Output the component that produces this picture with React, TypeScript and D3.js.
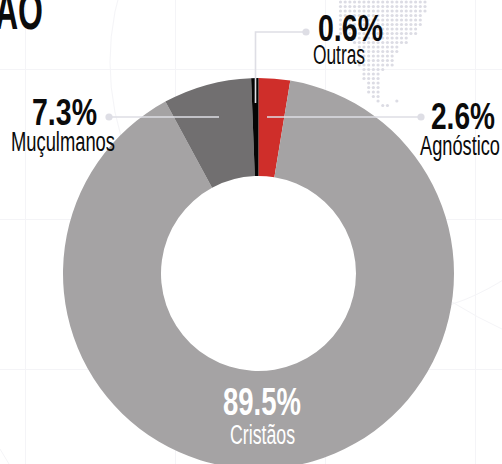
import React from "react";
import * as d3 from "d3";

const categories = ["Agnóstico", "Cristãos", "Muçulmanos", "Outras"];
const shares = [2.6, 89.5, 7.3, 0.6];
const sliceColors = ["#cf2e2a", "#a5a3a4", "#716f70", "#050505"];
const gridX = [25.5, 175.5, 325.5, 475.5];
const gridY = [69.5, 219.5, 369.5];
// dotted South America: one [firstColumn, lastColumn] span per row
const mapRows: number[][][] = [
  [[0, 18]], [[0, 18]], [[0, 18]], [[0, 17]], [[0, 17]], [[0, 17]], [[0, 16]], [[0, 16]],
  [[2, 14]], [[3, 14]], [[4, 12]], [[4, 12]], [[4, 11]], [[4, 11]], [[4, 11]],
  [[5, 9]], [[5, 8]], [[5, 8]], [[6, 8]], [[6, 8]], [[6, 8]], [[7, 8]], [[8, 8], [12, 12]], [[9, 10]],
];

const W = 502, H = 464, CX = 258.5, CY = 273.5, R = 195.5, RI = 97.5;
const narrow = "'Liberation Sans Narrow','Liberation Sans',sans-serif";

const pie = d3.pie<number>().sort(null).startAngle(0).endAngle(2 * Math.PI);
const arc = d3.arc<d3.PieArcDatum<number>>().innerRadius(RI).outerRadius(R);
const slices = pie(shares);
const colX = d3.scaleLinear().domain([0, 18]).range([340.5, 425]);
const rowY = d3.scaleLinear().domain([0, 23]).range([2, 105.5]);
const dots = mapRows.flatMap((spans, r) =>
  spans.flatMap(([a, b]) => d3.range(a, b + 1).map((c) => ({ x: colX(c), y: rowY(r) })))
);

const labels = [
  { i: 3, value: "0.6%", vx: 318, vw: 65, vy: 41, lx: 313, lw: 52, ly: 64, fill: "#0b0b0b", vs: 36, ls: 27 },
  { i: 0, value: "2.6%", vx: 431, vw: 64, vy: 129, lx: 420, lw: 80, ly: 155, fill: "#0b0b0b", vs: 36, ls: 27 },
  { i: 2, value: "7.3%", vx: 32, vw: 65, vy: 125, lx: 11, lw: 104, ly: 151, fill: "#0b0b0b", vs: 36, ls: 27 },
  { i: 1, value: "89.5%", vx: 223, vw: 78, vy: 415, lx: 230, lw: 65, ly: 444, fill: "#ffffff", vs: 39, ls: 27 },
];

const LEADER = "#dedee5";

export default function App() {
  return (
    <svg width={W} height={H} viewBox={`0 0 ${W} ${H}`} style={{ position: "absolute", left: 0, top: 0, background: "#fff", display: "block" }}>
      <g stroke="#f4f4f7" strokeWidth={1} fill="none">
        {gridX.map((x) => <line key={x} x1={x} x2={x} y1={0} y2={H} />)}
        {gridY.map((y) => <line key={y} x1={0} x2={W} y1={y} y2={y} />)}
        <circle cx={367} cy={62} r={257} />
        <path d="M452,302 Q478,318 502,329" />
        <path d="M0,449 L9,464" />
      </g>
      <g fill="#dcdce4">
        {dots.map((d, k) => <circle key={k} cx={d.x} cy={d.y} r={1.6} />)}
      </g>
      <text x={-5} y={29} fontFamily={narrow} fontWeight={700} fontSize={54} fill="#0b0b0b" textLength={48} lengthAdjust="spacingAndGlyphs">ÃO</text>
      <circle cx={CX} cy={CY} r={RI} fill="#fff" />
      <g transform={`translate(${CX},${CY})`}>
        {slices.map((s, i) => <path key={categories[i]} d={arc(s) || ""} fill={sliceColors[i]} />)}
      </g>
      <g stroke={LEADER} strokeWidth={1.6} fill="none">
        <line x1={109} x2={219} y1={117} y2={117} />
        <line x1={267} x2={421} y1={117} y2={117} />
        <path d="M306,32 H255.5 V103" />
      </g>
      <g fill={LEADER}>
        <circle cx={109} cy={117} r={3.6} />
        <circle cx={421} cy={117} r={3.6} />
        <circle cx={306} cy={32} r={3.6} />
      </g>
      {labels.map((l) => (
        <g key={l.value} fill={l.fill} fontFamily={narrow}>
          <text x={l.vx} y={l.vy} fontSize={l.vs} fontWeight={700} textLength={l.vw} lengthAdjust="spacingAndGlyphs">{l.value}</text>
          <text x={l.lx} y={l.ly} fontSize={l.ls} textLength={l.lw} lengthAdjust="spacingAndGlyphs">{categories[l.i]}</text>
        </g>
      ))}
    </svg>
  );
}
